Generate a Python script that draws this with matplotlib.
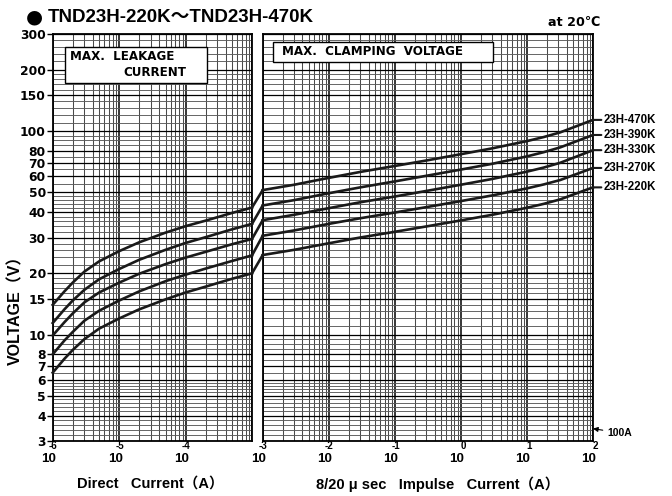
import numpy as np
import matplotlib
matplotlib.use('Agg')
import matplotlib.pyplot as plt
from matplotlib.patches import Rectangle, ConnectionPatch
from matplotlib.ticker import FixedLocator, FixedFormatter, NullFormatter
from matplotlib.transforms import offset_copy

LIB = ['Liberation Sans', 'Noto Sans CJK JP', 'DejaVu Sans']
DJV = ['DejaVu Sans', 'Noto Sans CJK JP']
plt.rcParams['font.family'] = LIB
plt.rcParams['font.weight'] = 'bold'

models = ['23H-220K', '23H-270K', '23H-330K', '23H-390K', '23H-470K']

# max. leakage current (left panel)
dc_current = [1e-6, 1.5e-6, 2e-6, 3e-6, 5e-6, 1e-5, 2e-5, 5e-5, 1e-4, 2e-4, 5e-4, 1e-3]
leak_220 = [6.5, 7.6, 8.4, 9.5, 10.7, 12.0, 13.3, 14.9, 16.1, 17.2, 18.8, 20.0]
leak_270 = [8.0, 9.35, 10.3, 11.7, 13.1, 14.7, 16.3, 18.3, 19.7, 21.1, 23.0, 24.5]
leak_330 = [9.9, 11.5, 12.7, 14.4, 16.1, 18.0, 19.9, 22.2, 23.9, 25.5, 27.8, 29.5]
leak_390 = [11.4, 13.3, 14.7, 16.6, 18.7, 21.0, 23.3, 26.1, 28.2, 30.1, 32.9, 35.0]
leak_470 = [14.0, 16.3, 18.0, 20.4, 22.9, 25.7, 28.4, 31.7, 34.1, 36.3, 39.6, 42.1]

# max. clamping voltage (right panel)
imp_current = [1e-3, 3e-3, 1e-2, 3e-2, 1e-1, 3e-1, 1, 3, 10, 18, 32, 57, 100]
clamp_220 = [24.6, 26.1, 28.1, 30.0, 32.0, 34.0, 36.4, 38.8, 42.0, 43.9, 46.2, 49.5, 52.9]
clamp_270 = [30.6, 32.5, 35.0, 37.3, 39.8, 42.3, 45.3, 48.3, 52.3, 54.7, 57.5, 61.6, 65.9]
clamp_330 = [36.5, 38.8, 41.8, 44.7, 47.7, 50.8, 54.5, 58.2, 63.2, 66.2, 69.9, 75.1, 80.6]
clamp_390 = [43.1, 45.8, 49.5, 52.9, 56.6, 60.3, 64.7, 69.1, 75.1, 78.8, 83.2, 89.3, 95.7]
clamp_470 = [51.3, 54.5, 58.9, 63.0, 67.4, 71.7, 77.0, 82.3, 89.3, 93.5, 98.6, 105.9, 113.5]

leak = [leak_220, leak_270, leak_330, leak_390, leak_470]
clamp = [clamp_220, clamp_270, clamp_330, clamp_390, clamp_470]

volt_ticks = [3, 4, 5, 6, 7, 8, 10, 15, 20, 30, 40, 50, 60, 70, 80, 100, 150, 200, 300]
left_xticks = [1e-6, 1e-5, 1e-4]
left_exp = ['-6', '-5', '-4']
right_xticks = [1e-3, 1e-2, 1e-1, 1, 10, 100]
right_exp = ['-3', '-2', '-1', '0', '1', '2']

W, H = 672, 496
fig = plt.figure(figsize=(W / 100, H / 100), dpi=100)
ax_l = fig.add_axes([52.7 / W, 1 - 441 / H, 199.3 / W, 407 / H])
ax_r = fig.add_axes([262.7 / W, 1 - 441 / H, 330.3 / W, 407 / H])

minor_y = np.concatenate([np.arange(3, 6, 0.2), np.arange(6, 10, 0.5), np.arange(10, 20, 1),
                          np.arange(20, 50, 2), np.arange(50, 100, 5), np.arange(100, 200, 10),
                          np.arange(200, 300, 20)])


def setup(ax, xlim, xticks, exps):
    ax.set_xscale('log')
    ax.set_yscale('log')
    ax.set_xlim(*xlim)
    ax.set_ylim(3, 300)
    decades = np.arange(np.log10(xlim[0]), np.log10(xlim[1]))
    minor_x = [s * 10 ** d for d in decades for s in range(2, 10)]
    ax.xaxis.set_major_locator(FixedLocator([10 ** d for d in decades] + [xlim[1]]))
    ax.xaxis.set_major_formatter(NullFormatter())
    ax.xaxis.set_minor_locator(FixedLocator(minor_x))
    ax.xaxis.set_minor_formatter(NullFormatter())
    ax.yaxis.set_major_locator(FixedLocator(volt_ticks))
    ax.yaxis.set_major_formatter(FixedFormatter([str(v) for v in volt_ticks]))
    ax.yaxis.set_minor_locator(FixedLocator(minor_y))
    ax.yaxis.set_minor_formatter(NullFormatter())
    ax.grid(which='minor', axis='x', color='#4a4a4a', lw=0.75)
    ax.grid(which='major', axis='x', color='black', lw=1.1)
    ax.grid(which='minor', axis='y', color='#5a5a5a', lw=0.65)
    ax.grid(which='major', axis='y', color='black', lw=0.9)
    ax.tick_params(which='minor', length=0)
    ax.tick_params(axis='x', which='major', length=0)
    ax.tick_params(axis='y', which='major', length=4, width=1, pad=1, labelsize=8.8)
    for lab in ax.get_yticklabels():
        lab.set_family(DJV)
    for sp in ax.spines.values():
        sp.set_linewidth(1.3)
        sp.set_color('black')
    # "10" with the exponent sitting above its right side
    base = offset_copy(ax.get_xaxis_transform(), fig=fig, x=-4, y=-11.5, units='dots')
    sup = offset_copy(ax.get_xaxis_transform(), fig=fig, x=5, y=-10, units='dots')
    for t, e in zip(xticks, exps):
        ax.text(t, 0, '10', transform=base, ha='center', va='top', fontsize=9.6)
        ax.text(t, 0, e, transform=sup, ha='right', va='bottom', fontsize=7)


setup(ax_l, (1e-6, 1e-3), left_xticks, left_exp)
setup(ax_r, (1e-3, 1e2), right_xticks, right_exp)
ax_r.tick_params(axis='y', which='major', length=0, labelleft=False)

for v in leak:
    ax_l.plot(dc_current, v, color='#1a1a1a', lw=1.9, zorder=4, clip_on=False)
for v in clamp:
    ax_r.plot(imp_current, v, color='#1a1a1a', lw=1.9, zorder=4, clip_on=False)

# jumps across the gap between the panels
for a, b in zip(leak, clamp):
    con = ConnectionPatch(xyA=(dc_current[-1], a[-1]), coordsA=ax_l.transData,
                          xyB=(imp_current[0], b[0]), coordsB=ax_r.transData,
                          color='#1a1a1a', lw=1.9)
    fig.add_artist(con)

for name, v in zip(models, clamp):
    ax_r.annotate(name, xy=(imp_current[-1], v[-1]), xytext=(8, 0), textcoords='offset points',
                  ha='left', va='center', fontsize=8.3, annotation_clip=False,
                  arrowprops=dict(arrowstyle='-', lw=1.5, color='#1a1a1a', shrinkA=0, shrinkB=0))

ax_r.annotate('100A', xy=(100, 3.45), xytext=(10, -3), textcoords='offset points',
              ha='left', va='center', fontsize=7.5, annotation_clip=False,
              arrowprops=dict(arrowstyle='-|>', lw=0.8, color='black', mutation_scale=7,
                              shrinkA=1, shrinkB=0))

# label boxes
ax_l.add_patch(Rectangle((0.062, 0.880), 0.713, 0.088, transform=ax_l.transAxes,
                         fc='white', ec='black', lw=1.0, zorder=3))
ax_l.text(0.087, 0.9435, 'MAX.  LEAKAGE', transform=ax_l.transAxes, fontsize=8.6,
          family=DJV, va='center', ha='left', zorder=5)
ax_l.text(0.353, 0.9066, 'CURRENT', transform=ax_l.transAxes, fontsize=8.6,
          family=DJV, va='center', ha='left', zorder=5)
ax_r.add_patch(Rectangle((0.031, 0.931), 0.666, 0.049, transform=ax_r.transAxes,
                         fc='white', ec='black', lw=1.0, zorder=3))
ax_r.text(0.0575, 0.9558, 'MAX.  CLAMPING  VOLTAGE', transform=ax_r.transAxes, fontsize=8.6,
          family=DJV, va='center', ha='left', zorder=5)

fig.text(34 / W, 1 - 17 / H, '●', fontsize=14, family=DJV, va='center', ha='center')
fig.text(48 / W, 1 - 17 / H, 'TND23H-220K～TND23H-470K', fontsize=13.5, va='center', ha='left')
fig.text(600 / W, 1 - 22 / H, 'at 20℃', fontsize=9.2, family=DJV, va='center', ha='right')
fig.text(150 / W, 1 - 484 / H, 'Direct   Current（A）', fontsize=10.5, va='center', ha='center')
fig.text(438 / W, 1 - 484 / H, '8/20 μ sec   Impulse   Current（A）', fontsize=10.5,
         va='center', ha='center')
fig.text(15.5 / W, 1 - 306 / H, 'VOLTAGE（V）', fontsize=11.5, va='center', ha='center',
         rotation=90)

fig.savefig('out.png', dpi=100)
